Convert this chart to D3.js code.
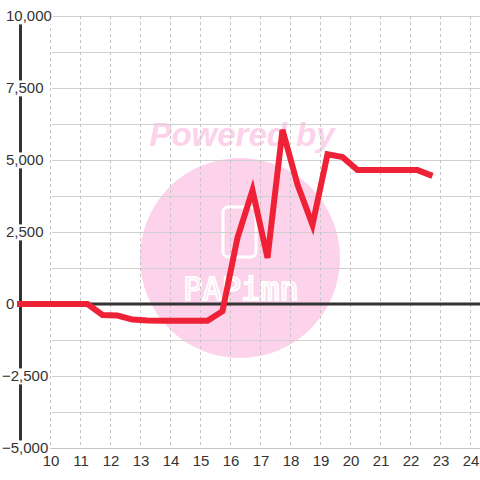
<!DOCTYPE html>
<html>
<head>
<meta charset="utf-8">
<script src="https://cdn.jsdelivr.net/npm/d3@7"></script>
<style>
  html, body { margin: 0; padding: 0; background: #fff; }
  svg { display: block; font-family: "Liberation Sans", Arial, sans-serif; }
</style>
</head>
<body>
<div id="chart"></div>
<script>
// data (x = hour of day, half-hourly midpoints)
const hours = [8.75, 9.25, 9.75, 10.25, 10.75, 11.25, 11.75, 12.25, 12.75, 13.25,
  13.75, 14.25, 14.75, 15.25, 15.75, 16.25, 16.75, 17.25, 17.75, 18.25,
  18.75, 19.25, 19.75, 20.25, 20.75, 21.25, 21.75, 22.25, 22.75];
const values = [0, 0, 0, 0, 0, 0, -380, -400, -540, -570,
  -580, -580, -580, -580, -250, 2300, 3950, 1600, 6050, 4150,
  2750, 5200, 5100, 4650, 4650, 4650, 4650, 4650, 4450];

const xTicks = [10, 11, 12, 13, 14, 15, 16, 17, 18, 19, 20, 21, 22, 23, 24];
const yTicks = [-5000, -2500, 0, 2500, 5000, 7500, 10000];
const yGrid = [-3750, -2500, -1250, 1250, 2500, 3750, 5000, 6250, 7500, 8750, 10000];

const width = 480, height = 480;

const svg = d3.select("#chart").append("svg")
  .attr("width", width)
  .attr("height", height);

const x = d3.scaleLinear().domain([9, 24 + 1 / 3]).range([20, 480]);
const y = d3.scaleLinear().domain([-5000, 10000]).range([448, 16]);

// watermark (behind everything)
const wm = svg.append("g");
wm.append("circle")
  .attr("cx", 240).attr("cy", 258).attr("r", 100)
  .attr("fill", "#fcd3ea");
wm.append("text")
  .attr("x", 242).attr("y", 146)
  .attr("text-anchor", "middle")
  .attr("font-size", 33)
  .attr("font-weight", "bold")
  .attr("font-style", "italic")
  .attr("fill", "#fcd3ea")
  .text("Powered by");
wm.append("rect")
  .attr("x", 223).attr("y", 207).attr("width", 33).attr("height", 50)
  .attr("rx", 5)
  .attr("fill", "none")
  .attr("stroke", "#fff")
  .attr("stroke-width", 3);
wm.append("text")
  .attr("x", 241).attr("y", 300)
  .attr("text-anchor", "middle")
  .attr("font-family", "DejaVu Sans Mono, monospace")
  .attr("font-size", 32)
  .attr("fill", "none")
  .attr("stroke", "#fff")
  .attr("stroke-width", 2)
  .text("PAPimn");

// horizontal grid
svg.append("g")
  .selectAll("line")
  .data(yGrid)
  .join("line")
  .attr("x1", 52).attr("x2", width)
  .attr("y1", d => Math.round(y(d)) + 0.5)
  .attr("y2", d => Math.round(y(d)) + 0.5)
  .attr("stroke", "#cfcfcf");

// vertical dashed grid
svg.append("g")
  .selectAll("line")
  .data(xTicks)
  .join("line")
  .attr("x1", d => Math.round(x(d)) + 0.5)
  .attr("x2", d => Math.round(x(d)) + 0.5)
  .attr("y1", y(10000)).attr("y2", y(-5000))
  .attr("stroke", "#c4c4c4")
  .attr("stroke-dasharray", "3 3");

// bottom baseline
svg.append("line")
  .attr("x1", 50).attr("x2", width)
  .attr("y1", Math.round(y(-5000)) + 0.5).attr("y2", Math.round(y(-5000)) + 0.5)
  .attr("stroke", "#c4c4c4");

// zero line
svg.append("line")
  .attr("x1", 20).attr("x2", width)
  .attr("y1", y(0)).attr("y2", y(0))
  .attr("stroke", "#333")
  .attr("stroke-width", 3);

// vertical axis line
svg.append("line")
  .attr("x1", 20.5).attr("x2", 20.5)
  .attr("y1", y(10000)).attr("y2", y(-5000))
  .attr("stroke", "#333")
  .attr("stroke-width", 3);

// series line
svg.append("clipPath").attr("id", "plotClip")
  .append("rect").attr("x", 17).attr("y", 0).attr("width", width - 17).attr("height", height);

const line = d3.line()
  .x((d, i) => x(hours[i]))
  .y(d => y(d));

svg.append("path")
  .datum(values)
  .attr("clip-path", "url(#plotClip)")
  .attr("fill", "none")
  .attr("stroke", "#ee2136")
  .attr("stroke-width", 6)
  .attr("d", line);

// y labels with white boxes covering the axis line
const fmt = d3.format(",");
const yLab = svg.append("g")
  .selectAll("g")
  .data(yTicks)
  .join("g");
yLab.append("rect").attr("fill", "#fff");
yLab.append("text")
  .attr("x", d => d < 0 ? 2 : 6)
  .attr("y", d => y(d))
  .attr("dy", "0.36em")
  .attr("font-size", 15)
  .attr("fill", "#333")
  .text(d => fmt(d));
yLab.each(function() {
  const g = d3.select(this);
  const b = g.select("text").node().getBBox();
  g.select("rect")
    .attr("x", b.x - 1).attr("y", b.y + 1)
    .attr("width", b.width + 2).attr("height", b.height - 1);
});

// x labels
svg.append("g")
  .selectAll("text")
  .data(xTicks)
  .join("text")
  .attr("x", d => x(d) + 1)
  .attr("y", 461)
  .attr("dy", "0.36em")
  .attr("text-anchor", "middle")
  .attr("font-size", 15)
  .attr("fill", "#333")
  .text(d => d);
</script>
</body>
</html>
